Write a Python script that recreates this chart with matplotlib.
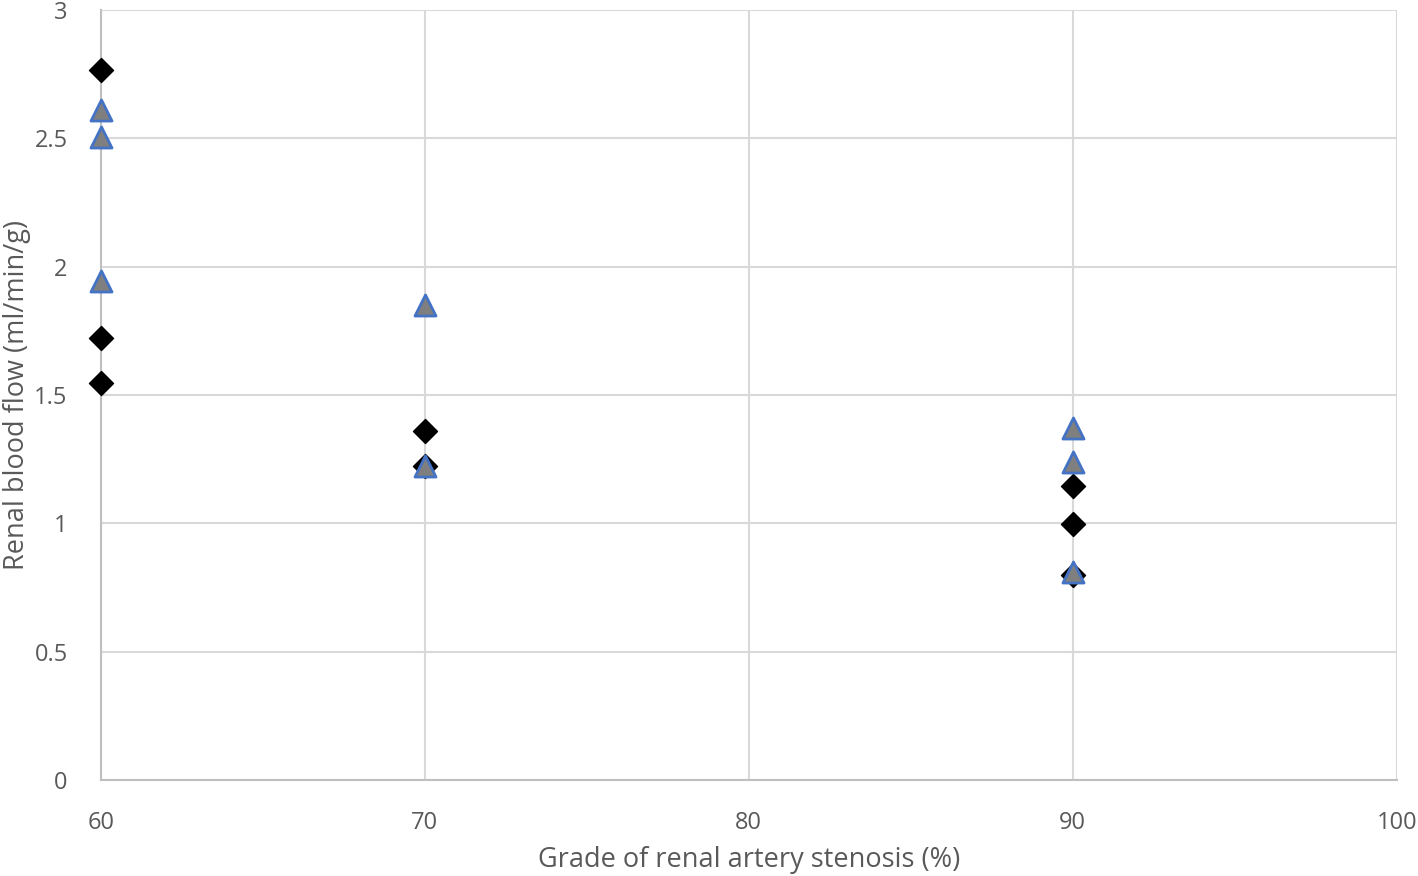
import numpy as np
from matplotlib import pyplot as plt

# diamonds (black) and triangles (grey, blue edge)
diamond_x = [60, 60, 60, 70, 70, 90, 90, 90]
diamond_y = [2.765, 1.722, 1.547, 1.360, 1.222, 1.145, 0.997, 0.800]
triangle_x = [60, 60, 60, 70, 70, 90, 90, 90]
triangle_y = [2.610, 2.505, 1.944, 1.850, 1.222, 1.371, 1.239, 0.810]

plt.rcParams['font.family'] = ['Open Sans', 'DejaVu Sans']

fig = plt.figure(figsize=(14.18, 8.76), dpi=100, facecolor='#ffffff')
ax = fig.add_axes([0.0712, 0.1096, 0.9138, 0.879])

ax.scatter(diamond_x, diamond_y, marker='D', s=150, color='black', zorder=3,
           clip_on=False)
ax.scatter(triangle_x, triangle_y, marker='^', s=230, facecolor='#7f7f7f',
           edgecolor='#4472c4', linewidth=2, zorder=4, clip_on=False)

ax.set_xlim(60, 100)
ax.set_ylim(0, 3)
ax.set_xticks([60, 70, 80, 90, 100])
ax.set_yticks([0, 0.5, 1, 1.5, 2, 2.5, 3])
ax.set_yticklabels(['0', '0.5', '1', '1.5', '2', '2.5', '3'])
ax.grid(True, color='#d9d9d9', linewidth=1.5)
ax.set_axisbelow(True)
for side in ['top', 'right']:
    ax.spines[side].set_visible(False)
for side in ['left', 'bottom']:
    ax.spines[side].set_color('#bfbfbf')
    ax.spines[side].set_linewidth(1.5)
ax.tick_params(length=0, labelsize=17, labelcolor='#595959')
ax.tick_params(axis='x', pad=22)
ax.tick_params(axis='y', pad=24)

ax.set_xlabel('Grade of renal artery stenosis (%)', fontsize=19.5,
              color='#595959', labelpad=8)
ax.set_ylabel('Renal blood flow (ml/min/g)', fontsize=19.5,
              color='#595959', labelpad=2)

fig.savefig('out.png', dpi=100)
